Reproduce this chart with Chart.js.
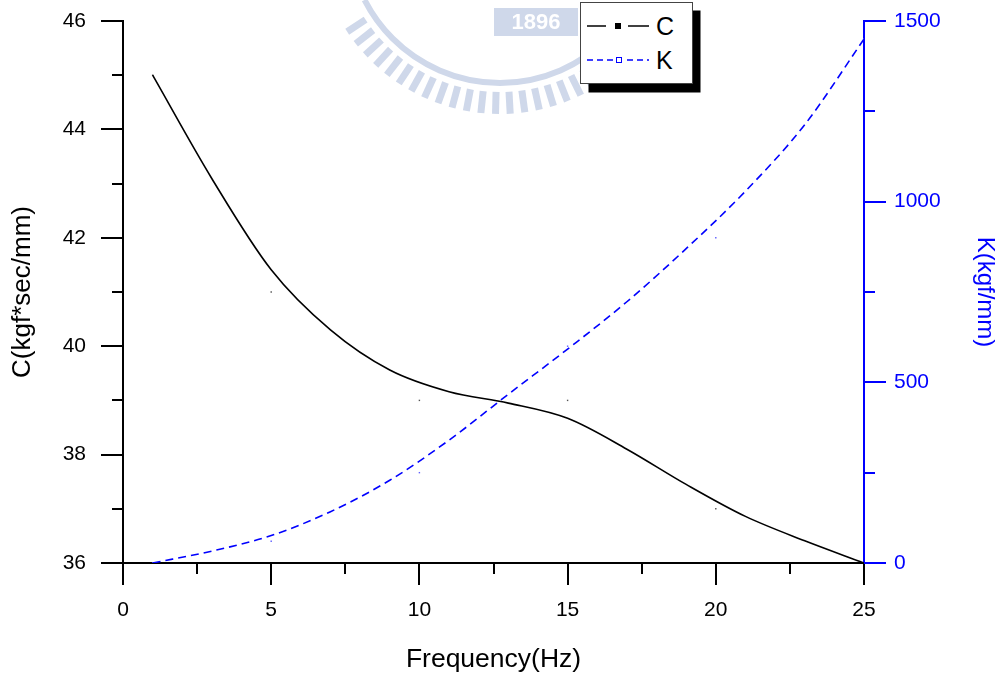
<!DOCTYPE html>
<html>
<head>
<meta charset="utf-8">
<script src="https://cdn.jsdelivr.net/npm/chart.js@4.4.1/dist/chart.umd.min.js"></script>
<style>
html,body{margin:0;padding:0;background:#fff;}
#wrap{position:relative;width:999px;height:676px;overflow:hidden;}
#legend{position:absolute;left:580px;top:2px;}
</style>
</head>
<body>
<div id="wrap">
<canvas id="c" width="999" height="676"></canvas>
<svg id="legend" width="125" height="95" xmlns="http://www.w3.org/2000/svg">
  <rect x="8.5" y="8.5" width="112" height="82" fill="#000"/>
  <rect x="0.5" y="0.5" width="112" height="81" fill="#fff" stroke="#444" stroke-width="1"/>
  <line x1="7" y1="24" x2="26" y2="24" stroke="#000" stroke-width="1.5"/>
  <rect x="35" y="21" width="6" height="6" fill="#000"/>
  <line x1="48" y1="24" x2="69" y2="24" stroke="#000" stroke-width="1.5"/>
  <text x="76" y="33" font-family="Liberation Sans, Arial, sans-serif" font-size="25" fill="#000">C</text>
  <line x1="7" y1="58" x2="33" y2="58" stroke="#0000ff" stroke-width="1.5" stroke-dasharray="6 4"/>
  <rect x="36.5" y="55.5" width="5" height="5" fill="#fff" stroke="#0000ff" stroke-width="1"/>
  <line x1="47" y1="58" x2="69" y2="58" stroke="#0000ff" stroke-width="1.5" stroke-dasharray="6 4"/>
  <text x="76" y="67" font-family="Liberation Sans, Arial, sans-serif" font-size="25" fill="#000">K</text>
</svg>
</div>
<script>
// ---- data ----
const freq = [1, 5, 10, 15, 20, 25];                 // measured frequencies (Hz)
const cValues = [45, 41, 39, 39, 37, 36];            // C (kgf*sec/mm) data markers
const kValues = [0, 60, 250, 600, 900, 1450];        // K (kgf/mm) data markers
// smooth B-spline curves
const curveFreq = [1, 3, 5, 7, 9, 11, 13, 15, 17, 19, 21, 23, 25];
const cCurve = [45.0, 43.09, 41.41, 40.30, 39.56, 39.16, 38.95, 38.67, 38.10, 37.45, 36.86, 36.41, 36.0];
const kCurve = [0, 33, 76, 142, 229, 340, 467, 592, 723, 870, 1029, 1213, 1450];
// axis tick values
const xTickValues = [0, 2.5, 5, 7.5, 10, 12.5, 15, 17.5, 20, 22.5, 25];
const xMajor = [0, 5, 10, 15, 20, 25];
const cTickValues = [36, 37, 38, 39, 40, 41, 42, 43, 44, 45, 46];
const cMajor = [36, 38, 40, 42, 44, 46];
const kTickValues = [0, 250, 500, 750, 1000, 1250, 1500];
const kMajor = [0, 500, 1000, 1500];

const FONT = 'Liberation Sans, Arial, sans-serif';
const BLUE = '#0000ff';

const pairs = (xs, ys) => xs.map((x, i) => ({x: x, y: ys[i]}));

const watermark = {
  id: 'watermark',
  beforeDraw(chart) {
    const ctx = chart.ctx;
    ctx.save();
    const col = '#cfd8ea';
    const cx = 500, cy = -69;
    ctx.strokeStyle = col;
    ctx.lineWidth = 6;
    ctx.beginPath();
    ctx.arc(cx, cy, 152, Math.PI * 0.25, Math.PI * 0.85);
    ctx.stroke();
    ctx.lineWidth = 7;
    for (let a = 50; a <= 150; a += 4.6) {
      const r = a * Math.PI / 180;
      ctx.beginPath();
      ctx.moveTo(cx + Math.cos(r) * 161, cy + Math.sin(r) * 161);
      ctx.lineTo(cx + Math.cos(r) * 183, cy + Math.sin(r) * 183);
      ctx.stroke();
    }
    ctx.fillStyle = col;
    ctx.fillRect(494, 8, 84, 28);
    ctx.fillStyle = '#fff';
    ctx.font = 'bold 22px ' + FONT;
    ctx.textAlign = 'center';
    ctx.textBaseline = 'middle';
    ctx.fillText('1896', 536, 23);
    ctx.restore();
  }
};

const tickMarks = {
  id: 'tickMarks',
  afterDraw(chart) {
    const ctx = chart.ctx;
    const {x, y, y1} = chart.scales;
    const area = chart.chartArea;
    ctx.save();
    ctx.lineWidth = 2;
    ctx.strokeStyle = '#000';
    xTickValues.forEach(v => {
      const p = Math.round(x.getPixelForValue(v));
      const len = xMajor.includes(v) ? 22 : 11;
      ctx.beginPath(); ctx.moveTo(p, area.bottom); ctx.lineTo(p, area.bottom + len); ctx.stroke();
    });
    cTickValues.forEach(v => {
      const p = Math.round(y.getPixelForValue(v));
      const len = cMajor.includes(v) ? 22 : 11;
      ctx.beginPath(); ctx.moveTo(area.left, p); ctx.lineTo(area.left - len, p); ctx.stroke();
    });
    ctx.strokeStyle = BLUE;
    kTickValues.forEach(v => {
      const p = Math.round(y1.getPixelForValue(v));
      const len = kMajor.includes(v) ? 22 : 11;
      ctx.beginPath(); ctx.moveTo(area.right, p); ctx.lineTo(area.right + len, p); ctx.stroke();
    });
    ctx.restore();
  }
};

const plain = v => String(v);

new Chart(document.getElementById('c'), {
  type: 'line',
  data: {
    datasets: [
      {label: 'C', data: pairs(curveFreq, cCurve), yAxisID: 'y', borderColor: '#000', borderWidth: 1.6,
       pointRadius: 0, cubicInterpolationMode: 'monotone', fill: false},
      {label: 'K', data: pairs(curveFreq, kCurve), yAxisID: 'y1', borderColor: BLUE, borderWidth: 1.6,
       borderDash: [8, 5], pointRadius: 0, cubicInterpolationMode: 'monotone', fill: false},
      {label: 'C data', data: pairs(freq, cValues), yAxisID: 'y', showLine: false, pointStyle: 'rect',
       pointRadius: 1, pointBorderWidth: 0, pointBackgroundColor: '#555'},
      {label: 'K data', data: pairs(freq, kValues), yAxisID: 'y1', showLine: false, pointStyle: 'rect',
       pointRadius: 1, pointBorderWidth: 0, pointBackgroundColor: '#6060ff'}
    ]
  },
  options: {
    responsive: false,
    animation: false,
    layout: {padding: {top: 21, left: 0, right: 0, bottom: 0}},
    plugins: {legend: {display: false}, tooltip: {enabled: false}},
    scales: {
      x: {
        type: 'linear', position: 'bottom', min: 0, max: 25,
        grid: {display: false, drawTicks: false},
        border: {display: true, color: '#000', width: 2},
        ticks: {stepSize: 5, color: '#000', font: {family: FONT, size: 21}, padding: 35, maxRotation: 0, autoSkip: false, callback: plain},
        title: {display: true, text: 'Frequency(Hz)', color: '#000', font: {family: FONT, size: 26.5}, padding: {top: 0, bottom: 0}},
        afterFit(s) { s.height = 113; s.paddingLeft = 0; s.paddingRight = 0; }
      },
      y: {
        type: 'linear', position: 'left', min: 36, max: 46,
        grid: {display: false, drawTicks: false},
        border: {display: true, color: '#000', width: 2},
        ticks: {stepSize: 2, color: '#000', font: {family: FONT, size: 21}, padding: 37, callback: plain},
        title: {display: true, text: 'C(kgf*sec/mm)', color: '#000', font: {family: FONT, size: 26}, padding: {top: 7, bottom: 0}},
        afterFit(s) { s.width = 123; s.paddingTop = 0; s.paddingBottom = 0; }
      },
      y1: {
        type: 'linear', position: 'right', min: 0, max: 1500,
        grid: {display: false, drawTicks: false},
        border: {display: true, color: BLUE, width: 2},
        ticks: {stepSize: 500, color: BLUE, font: {family: FONT, size: 21}, padding: 30, callback: plain},
        title: {display: true, text: 'K(kgf/mm)', color: BLUE, font: {family: FONT, size: 24}, padding: {top: 0, bottom: 0}},
        afterFit(s) { s.width = 135; s.paddingTop = 0; s.paddingBottom = 0; }
      }
    }
  },
  plugins: [watermark, tickMarks]
});
</script>
</body>
</html>
